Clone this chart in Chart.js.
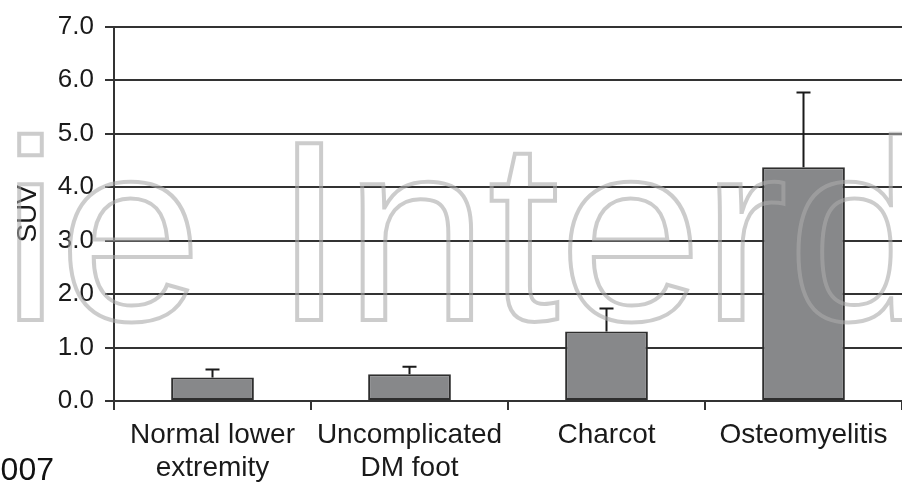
<!DOCTYPE html>
<html>
<head>
<meta charset="utf-8">
<script src="https://cdn.jsdelivr.net/npm/chart.js@4"></script>
<style>
  html, body { margin: 0; padding: 0; background: #fff; }
  #wrap { width: 902px; height: 485px; position: relative; }
</style>
</head>
<body>
<div id="wrap"><canvas id="suvChart"></canvas></div>
<script>
// Data
const categories = [['Normal lower', 'extremity'], ['Uncomplicated', 'DM foot'], 'Charcot', 'Osteomyelitis'];
const suvMean = [0.44, 0.50, 1.30, 4.37];
const suvErrHigh = [0.59, 0.64, 1.73, 5.77];   // top of the error whisker
const yMin = 0, yMax = 7, yStep = 1;

const FONT = "'Liberation Sans', Arial, Helvetica, sans-serif";
const INK = '#1a1a1a';
const LINE = '#333';

// one-sided error bars, drawn through the chart's own scales
const errorBars = {
    id: 'errorBars',
    afterDatasetsDraw(chart) {
        const { ctx, scales: { y } } = chart;
        const meta = chart.getDatasetMeta(0);
        ctx.save();
        ctx.strokeStyle = INK;
        ctx.lineWidth = 2;
        meta.data.forEach((bar, i) => {
            const yTop = y.getPixelForValue(suvErrHigh[i]);
            const yBase = y.getPixelForValue(suvMean[i]);
            ctx.beginPath();
            ctx.moveTo(bar.x, yBase);
            ctx.lineTo(bar.x, yTop);
            ctx.moveTo(bar.x - 7, yTop);
            ctx.lineTo(bar.x + 7, yTop);
            ctx.stroke();
        });
        ctx.restore();
    }
};

// watermark and the cut-off year at the bottom left
const overlay = {
    id: 'overlay',
    afterDraw(chart) {
        const ctx = chart.ctx;
        ctx.save();
        ctx.font = '257px ' + FONT;
        ctx.textBaseline = 'alphabetic';
        ctx.textAlign = 'left';
        ctx.lineWidth = 4;
        ctx.strokeStyle = 'rgba(170,170,170,0.6)';
        ctx.strokeText('ie Interd', 2, 320);

        ctx.font = '32px ' + FONT;
        ctx.fillStyle = '#111';
        ctx.textAlign = 'right';
        ctx.fillText('2007', 54, 480);
        ctx.restore();
    }
};

new Chart(document.getElementById('suvChart'), {
    type: 'bar',
    data: {
        labels: categories,
        datasets: [{
            data: suvMean,
            backgroundColor: '#87888a',
            borderColor: '#2e2e2e',
            borderWidth: 2,
            borderSkipped: false,
            categoryPercentage: 1,
            barPercentage: 0.42
        }]
    },
    options: {
        responsive: true,
        maintainAspectRatio: false,
        animation: false,
        layout: { padding: { top: 24, left: 0, right: 0, bottom: 0 } },
        plugins: {
            legend: { display: false },
            tooltip: { enabled: false }
        },
        scales: {
            x: {
                grid: {
                    display: true,
                    drawOnChartArea: false,
                    drawTicks: true,
                    tickLength: 9,
                    color: LINE,
                    lineWidth: 2
                },
                border: { display: true, color: LINE, width: 2 },
                ticks: {
                    color: INK,
                    padding: 8,
                    maxRotation: 0,
                    autoSkip: false,
                    font: { family: FONT, size: 28, lineHeight: 1.2 }
                },
                afterFit(scale) { scale.height = 84; }
            },
            y: {
                min: yMin,
                max: yMax,
                grid: {
                    color: LINE,
                    lineWidth: 2,
                    tickLength: 9,
                    drawTicks: true
                },
                border: { display: true, color: LINE, width: 2 },
                ticks: {
                    stepSize: yStep,
                    color: INK,
                    padding: 11,
                    font: { family: FONT, size: 26 },
                    callback: v => Number(v).toFixed(1)
                },
                title: {
                    display: true,
                    text: 'SUV',
                    color: INK,
                    font: { family: FONT, size: 28 },
                    padding: { top: 11, bottom: 0 }
                },
                afterFit(scale) { scale.width = 114; }
            }
        }
    },
    plugins: [errorBars, overlay]
});
</script>
</body>
</html>
